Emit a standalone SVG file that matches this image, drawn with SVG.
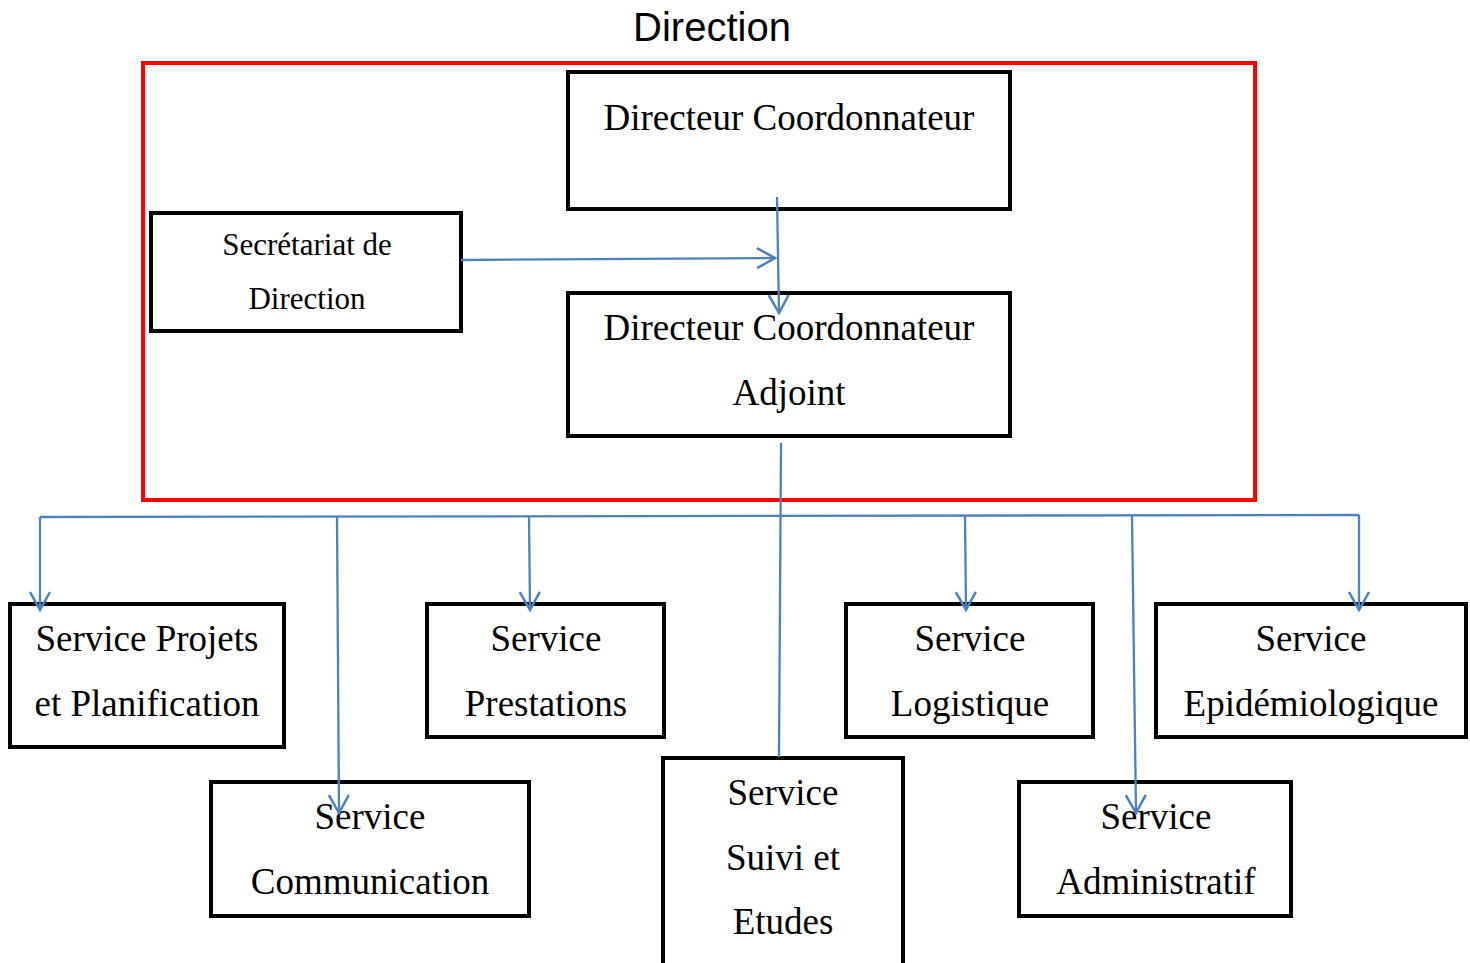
<svg xmlns="http://www.w3.org/2000/svg" width="1470" height="963" viewBox="0 0 1470 963">
<style>
.box{fill:#fff;stroke:#000;stroke-width:4}
.t{font-family:"Liberation Serif","Times New Roman",serif;font-size:37px;fill:#000;text-anchor:middle}
.ts{font-family:"Liberation Serif","Times New Roman",serif;font-size:31px;fill:#000;text-anchor:middle}
.c{fill:none;stroke:#4F81BD;stroke-width:2.3}
</style>
<defs>
<marker id="arr" markerUnits="userSpaceOnUse" markerWidth="40" markerHeight="40" viewBox="-20 -20 40 40" refX="0" refY="0" orient="auto" overflow="visible">
<path d="M-18,-10 L0,0 L-18,10" fill="none" stroke="#4F81BD" stroke-width="2.5"/>
</marker>
</defs>
<rect width="1470" height="963" fill="#fff"/>
<text x="712" y="41" font-family="Liberation Sans, Arial, sans-serif" font-size="40" text-anchor="middle">Direction</text>
<rect x="143" y="63" width="1112" height="437" fill="none" stroke="#FF0000" stroke-width="4"/>
<g id="dc"><rect class="box" x="568" y="72" width="442" height="137"/><text class="t" x="789" y="130">Directeur Coordonnateur</text></g>
<g id="sec"><rect class="box" x="151" y="213" width="310" height="118"/><text class="ts" x="307" y="255">Secrétariat de</text><text class="ts" x="307" y="309">Direction</text></g>
<g id="dca"><rect class="box" x="568" y="293" width="442" height="143"/><text class="t" x="789" y="340">Directeur Coordonnateur</text><text class="t" x="789" y="405">Adjoint</text></g>
<g id="spp"><rect class="box" x="10" y="604" width="274" height="143"/><text class="t" x="147" y="651">Service Projets</text><text class="t" x="147" y="716">et Planification</text></g>
<g id="spr"><rect class="box" x="427" y="604" width="237" height="133"/><text class="t" x="546" y="651">Service</text><text class="t" x="546" y="716">Prestations</text></g>
<g id="slo"><rect class="box" x="846" y="604" width="247" height="133"/><text class="t" x="970" y="651">Service</text><text class="t" x="970" y="716">Logistique</text></g>
<g id="sep"><rect class="box" x="1156" y="604" width="310" height="133"/><text class="t" x="1311" y="651">Service</text><text class="t" x="1311" y="716">Epidémiologique</text></g>
<g id="sco"><rect class="box" x="211" y="782" width="318" height="134"/><text class="t" x="370" y="829">Service</text><text class="t" x="370" y="894">Communication</text></g>
<g id="sad"><rect class="box" x="1019" y="782" width="272" height="134"/><text class="t" x="1156" y="829">Service</text><text class="t" x="1156" y="894">Administratif</text></g>
<g id="sse"><rect class="box" x="663" y="758" width="240" height="210"/><text class="t" x="783" y="805">Service</text><text class="t" x="783" y="870">Suivi et</text><text class="t" x="783" y="934">Etudes</text></g>
<g id="connectors">
<line class="c" x1="461" y1="260" x2="775" y2="258" marker-end="url(#arr)"/>
<line class="c" x1="777" y1="197" x2="779" y2="313" marker-end="url(#arr)"/>
<line class="c" x1="781" y1="443" x2="779" y2="757"/>
<polyline class="c" points="40,517 1359,515"/>
<line class="c" x1="40" y1="517" x2="40" y2="610" marker-end="url(#arr)"/>
<line class="c" x1="337" y1="517" x2="339" y2="813" marker-end="url(#arr)"/>
<line class="c" x1="529" y1="517" x2="530" y2="610" marker-end="url(#arr)"/>
<line class="c" x1="965" y1="516" x2="966" y2="610" marker-end="url(#arr)"/>
<line class="c" x1="1132" y1="516" x2="1136" y2="813" marker-end="url(#arr)"/>
<line class="c" x1="1359" y1="515" x2="1359" y2="610" marker-end="url(#arr)"/>
</g>
</svg>
